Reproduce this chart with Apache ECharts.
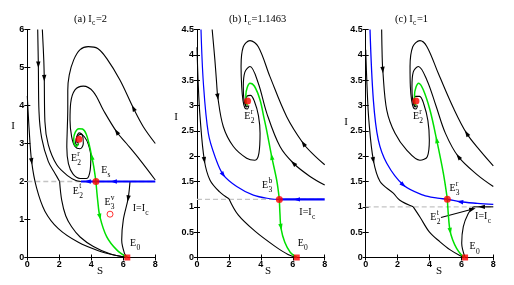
<!DOCTYPE html>
<html><head><meta charset="utf-8">
<script src="https://cdn.jsdelivr.net/npm/echarts@6/dist/echarts.min.js"></script>
<style>html,body{margin:0;padding:0;background:#fff}#c{width:514px;height:285px}</style>
</head><body><div id="c"></div>
<script>
// ---------------- Panel (a) Ic = 2 ----------------
const a_Ic = 2;
const a_leftCurve = [[0.0,4.25],[0.11,3.41],[0.27,2.53],[0.58,1.83],[1.1,1.22],[1.94,0.76],[3.19,0.4],[4.44,0.18],[5.5,0.06],[6.25,0]];
const a_topCurve1Upper = [[0.65,6],[0.69,5.07],[0.73,3.85],[0.9,3.14],[1.31,2.53],[1.75,2.2],[2.02,2.0]];
const a_topCurve1Lower = [[2.02,2.0],[2.15,1.51],[2.4,1.1],[2.77,0.81],[3.3,0.54],[4.13,0.29],[5.2,0.09],[6.25,0]];
const a_topCurve2 = [[0.94,6],[1.03,5.2],[1.06,4.72],[1.1,3.58],[1.31,2.97],[1.84,2.44],[2.56,2.14],[3.0,2.03],[3.35,2.0]];
const a_loopOuter = [[8,3.0],[7.25,3.44],[6.63,3.93],[5.79,4.67],[4.96,5.24],[4.4,5.5],[3.81,5.55],[3.3,5.47],[2.9,5.2],[2.62,4.8],[2.53,4.4],[2.53,3.9],[2.5,3.4],[2.47,2.9],[2.57,2.47],[2.85,2.2],[3.3,2.08],[3.7,2.08],[3.93,2.3],[3.97,2.65],[3.82,2.97],[3.58,3.17],[3.33,3.24],[3.1,3.17],[3.02,3.02],[3.12,2.95],[3.22,3.0]];
const a_loopInner = [[8,2.04],[7.04,2.57],[6.2,3.0],[5.58,3.31],[4.75,3.88],[4.13,4.36],[3.5,4.51],[2.98,4.41],[2.71,4.06],[2.67,3.62],[2.77,3.18],[2.98,2.92],[3.29,2.86],[3.5,3.0],[3.45,3.22],[3.25,3.28],[3.08,3.15],[3.12,3.02],[3.2,3.03]];
const a_rightCurve = [[6.42,2.0],[6.3,1.55],[6.0,0.99],[5.9,0.46],[6.08,0.1],[6.25,0]];
const a_greenUp = [[4.29,2.0],[4.15,2.4],[4.03,2.65],[3.88,2.95],[3.68,3.25],[3.45,3.38],[3.22,3.39],[3.0,3.3],[2.9,3.12],[2.95,2.97],[3.1,2.93],[3.18,3.0]];
const a_greenDown = [[4.29,2.0],[4.4,1.5],[4.54,1.07],[4.96,0.55],[5.59,0.2],[6.25,0]];
const a_blueLine = [[3.35,2.0],[8,2.0]];
const a_redDots = [[3.23,3.11],[4.29,2.0]];
const a_redSquare = [[6.25,0]];
const a_redHollow = [[5.17,1.14]];
// arrows: x, y, dx, dy, colour (0 black, 1 blue, 2 green)
const a_arrows = [[0.69,5.07,0.08,-2.15,0],[1.06,4.72,0.07,-1.6,0],[0.27,2.53,0.47,-1.58,0],[6.63,3.93,-1.46,1.23,0],[5.58,3.31,-1.45,0.88,0],[6.3,1.55,-0.42,-1.0,0],[5.4,2.0,-1,0,1],[3.77,2.0,-1,0,1],[4.03,2.65,-0.27,0.55,2],[4.54,1.07,0.56,-0.95,2]];
const a_labels = [[2.92,2.61,'E','r','2'],[4.81,2.3,'E','','s'],[3.03,1.75,'E','t','2'],[5.01,1.45,'E','v','3'],[6.59,1.29,'I=I','','c',1],[6.61,0.36,'E','','0']];

// ---------------- Panel (b) Ic = 1.1463 ----------------
const b_Ic = 1.1463;
const b_topLeft = [[0.95,4.5],[1.12,3.9],[1.23,3.44],[1.3,3.17],[1.65,2.58],[2.28,2.19],[3.11,1.96],[3.63,1.92],[3.88,2.06],[3.95,2.45],[3.85,2.8],[3.6,3.08],[3.35,3.2],[3.12,3.18],[3.02,3.06],[3.1,2.97],[3.2,3.0]];
const b_loopOuter = [[8.0,1.83],[7.3,2.03],[6.66,2.25],[5.62,2.78],[4.57,3.57],[3.84,4.16],[3.32,4.28],[2.9,4.16],[2.76,3.77],[2.8,3.37],[2.88,3.1],[3.0,2.95],[3.15,2.93],[3.25,3.0]];
const b_loopInner = [[8.0,1.43],[7.08,1.6],[6.04,1.86],[5.2,2.19],[4.37,2.85],[3.84,3.44],[3.32,3.77],[3.0,3.66],[2.9,3.37],[2.94,3.12],[3.05,3.0],[3.16,2.98]];
const b_leftUpper = [[0.0,4.15],[0.08,3.4],[0.19,2.78],[0.46,1.92],[0.81,1.53],[1.4,1.3],[2.0,1.16]];
const b_leftLower = [[2.0,1.16],[2.58,0.84],[3.63,0.52],[4.89,0.22],[5.7,0.06],[6.25,0]];
const b_greenUp = [[5.16,1.1463],[4.99,1.53],[4.68,1.99],[4.37,2.5],[4.2,2.75],[3.95,3.11],[3.6,3.38],[3.32,3.44],[3.15,3.36],[3.06,3.2],[3.08,3.05],[3.17,3.0]];
const b_greenDown = [[5.16,1.1463],[5.2,0.85],[5.26,0.58],[5.5,0.3],[5.85,0.1],[6.25,0]];
const b_blueCurve = [[0.25,4.5],[0.4,3.44],[0.71,2.45],[1.13,1.99],[1.65,1.63],[2.49,1.4],[3.53,1.23],[4.57,1.16],[5.16,1.1463]];
const b_blueLine = [[5.16,1.1463],[8,1.1463]];
const b_redDots = [[3.17,3.09],[5.16,1.1463]];
const b_redSquare = [[6.25,0]];
const b_arrows = [[1.3,3.17,0.42,-0.86,0],[0.46,1.92,0.62,-1.25,0],[6.66,2.25,-1.68,0.75,0],[6.04,1.86,-1.88,0.59,0],[1.65,1.63,1.36,-0.59,1],[6.25,1.1463,-1,0,1],[4.68,1.99,-0.62,0.97,2],[5.26,0.6,0.3,-0.55,2]];
const b_labels = [[3.15,2.78,'E','r','2'],[4.27,1.43,'E','b','3'],[6.41,0.9,'I=I','','c',1],[6.5,0.27,'E','','0']];

// ---------------- Panel (c) Ic = 1 ----------------
const c_Ic = 1;
const c_topLeft = [[1.0,4.5],[1.03,4.0],[1.07,3.7],[1.32,2.91],[1.84,2.45],[2.57,2.12],[3.4,1.92],[3.86,1.99],[3.99,2.32],[3.9,2.7],[3.65,3.02],[3.38,3.18],[3.12,3.18],[3.02,3.06],[3.1,2.97],[3.2,3.0]];
const c_loopOuter = [[8.0,1.81],[7.2,2.1],[6.33,2.45],[5.5,2.95],[4.57,3.62],[3.84,4.16],[3.4,4.28],[2.95,4.16],[2.78,3.77],[2.8,3.37],[2.88,3.1],[3.0,2.95],[3.15,2.93],[3.25,3.0]];
const c_loopInner = [[8.0,1.4],[7.0,1.63],[5.81,1.99],[5.0,2.45],[4.4,3.0],[3.84,3.5],[3.3,3.77],[2.98,3.66],[2.9,3.37],[2.94,3.12],[3.05,3.0],[3.16,2.98]];
const c_leftUpper = [[0.0,4.1],[0.08,3.4],[0.2,2.7],[0.48,1.92],[0.9,1.5],[1.73,1.27],[2.14,1.13],[2.98,1.0]];
const c_leftLower = [[2.98,1.0],[3.4,0.8],[4.0,0.5],[4.66,0.31],[5.3,0.15],[5.9,0.04],[6.23,0]];
const c_rightRise = [[6.23,0],[6.02,0.28],[6.12,0.61],[6.43,0.87],[6.75,1.0]];
const c_sliding = [[6.75,1.0],[8.0,1.0]];
const c_greenUp = [[5.12,1.15],[4.87,1.66],[4.45,2.32],[4.03,2.91],[3.61,3.31],[3.32,3.44],[3.15,3.36],[3.06,3.2],[3.08,3.05],[3.17,3.0]];
const c_greenDown = [[5.12,1.15],[5.18,0.85],[5.28,0.54],[5.45,0.35],[5.7,0.18],[6.0,0.05],[6.23,0]];
const c_blueCurve = [[0.27,4.5],[0.48,3.11],[0.79,2.32],[1.32,1.86],[2.36,1.43],[3.61,1.23],[4.5,1.17],[5.12,1.15],[5.91,1.1],[7.0,1.07],[8.0,1.05]];
const c_pointer = [[4.72,0.79],[6.72,0.957]];
const c_redDots = [[3.15,3.09],[5.12,1.15]];
const c_redSquare = [[6.23,0]];
const c_arrows = [[1.07,3.7,0.29,-1.09,0],[0.48,1.92,0.7,-1.2,0],[6.33,2.45,-1.7,0.85,0],[5.81,1.99,-2.0,0.82,0],[7.27,1.0,-1,0,0],[6.7,0.955,1,0.085,0],[2.36,1.43,2.29,-0.63,1],[5.91,1.1,-1.88,0.08,1],[4.45,2.32,-0.84,1.25,2],[5.3,0.52,0.27,-0.5,2]];
const c_labels = [[3.15,2.78,'E','r','2'],[5.44,1.37,'E','r','3'],[4.24,0.79,'E','t','2'],[6.86,0.82,'I=I','','c',1],[6.7,0.21,'E','','0']];

// tick/axis settings
const xTicks = {min:0, max:8, interval:2};
const a_yTicks = {min:0, max:6, interval:1};
const bc_yTicks = {min:0, max:4.5, interval:0.5};
const titles = [['(a) I','c','=2'],['(b) I','c','=1.1463'],['(c) I','c','=1']];

// ---------------- build ----------------
const SERIF = '"Liberation Serif","Times New Roman",serif';
const mctx = document.createElement('canvas').getContext('2d');
function tw(t, s){ mctx.font = s+'px '+SERIF; return mctx.measureText(t).width; }
const COLORS = ['#000000','#0000ff','#00e000'];

function arrowItem(params, api){
  const x=api.value(0), y=api.value(1), dx=api.value(2), dy=api.value(3), ci=api.value(4);
  const p=api.coord([x,y]); const q=api.coord([x+dx*0.05, y+dy*0.05]);
  const a=Math.atan2(q[1]-p[1], q[0]-p[0]);
  const c=Math.cos(a), s=Math.sin(a); const L=6.5, W=2.2;
  const tip=[p[0]+c*L/2, p[1]+s*L/2]; const bx=p[0]-c*L/2, by=p[1]-s*L/2;
  return {type:'polygon', shape:{points:[tip,[bx-s*W, by+c*W],[bx+s*W, by-c*W]]}, style:{fill:COLORS[ci]}};
}
function labelRenderer(list){
  return function(params, api){
    const L=list[params.dataIndex];
    const p=api.coord([L[0],L[1]]);
    const fs=10, ss=7.5;
    const w=tw(L[2],fs);
    const x0 = L[5]===1 ? p[0] : p[0]-w/2;
    const kids=[{type:'text', x:x0, y:p[1], style:{text:L[2], font:fs+'px '+SERIF, fill:'#000', align:'left', verticalAlign:'middle'}}];
    const xr=x0+w+0.3;
    if(L[3]) kids.push({type:'text', x:xr, y:p[1]-4.5, style:{text:L[3], font:ss+'px '+SERIF, fill:'#000', align:'left', verticalAlign:'middle'}});
    if(L[4]) kids.push({type:'text', x:xr, y:p[1]+4.7, style:{text:L[4], font:ss+'px '+SERIF, fill:'#000', align:'left', verticalAlign:'middle'}});
    return {type:'group', children:kids};
  };
}

const panels = [
  {left:27.3, width:128, y:a_yTicks, Ic:a_Ic,
   black:[a_leftCurve,a_topCurve1Upper,a_topCurve1Lower,a_topCurve2,a_loopOuter,a_loopInner,a_rightCurve],
   blue:[[a_blueLine,2.2]], green:[a_greenUp,a_greenDown], straight:[],
   dots:a_redDots, square:a_redSquare, hollow:a_redHollow, arrows:a_arrows, labels:a_labels},
  {left:197, width:127.7, y:bc_yTicks, Ic:b_Ic,
   black:[b_topLeft,b_loopOuter,b_loopInner,b_leftUpper,b_leftLower],
   blue:[[b_blueCurve,1.2],[b_blueLine,2.2]], green:[b_greenUp,b_greenDown], straight:[],
   dots:b_redDots, square:b_redSquare, hollow:[], arrows:b_arrows, labels:b_labels},
  {left:365.7, width:127.6, y:bc_yTicks, Ic:c_Ic,
   black:[c_topLeft,c_loopOuter,c_loopInner,c_leftUpper,c_leftLower,c_rightRise],
   blue:[[c_blueCurve,1.3]], green:[c_greenUp,c_greenDown], straight:[c_sliding,c_pointer],
   dots:c_redDots, square:c_redSquare, hollow:[], arrows:c_arrows, labels:c_labels}
];

const grid=[], xAxis=[], yAxis=[], series=[];
const lbl = {fontSize:9, fontWeight:'bold', color:'#000', fontFamily:'"Liberation Sans",Arial,sans-serif'};
const axLine = {show:true, lineStyle:{color:'#000', width:1}};
const tick = {show:true, inside:true, length:3, lineStyle:{color:'#000'}};
panels.forEach((P,i)=>{
  grid.push({left:P.left, top:29.5, width:P.width, height:228});
  xAxis.push({type:'value', gridIndex:i, ...xTicks, position:'bottom', axisLine:axLine, axisTick:tick, splitLine:{show:false}, axisLabel:{...lbl, margin:3}});
  xAxis.push({type:'value', gridIndex:i, ...xTicks, position:'top', axisLine:axLine, axisTick:tick, splitLine:{show:false}, axisLabel:{show:false}});
  yAxis.push({type:'value', gridIndex:i, ...P.y, position:'left', axisLine:axLine, axisTick:tick, splitLine:{show:false}, axisLabel:{...lbl, margin:3}});
  yAxis.push({type:'value', gridIndex:i, ...P.y, position:'right', axisLine:axLine, axisTick:tick, splitLine:{show:false}, axisLabel:{show:false}});
  const xi=2*i, yi=2*i;
  const line=(data,color,width,smooth,z,type)=>series.push({type:'line', xAxisIndex:xi, yAxisIndex:yi, data, showSymbol:false, smooth:smooth, silent:true, z:z, clip:true, lineStyle:{color, width, type:type||'solid'}});
  line([[0,P.Ic],[8,P.Ic]], '#c4c4c4', 1.3, false, 1, [5,3]);
  P.black.forEach(d=>line(d,'#000',1.1,0.35,2));
  P.straight.forEach(d=>line(d,'#000',1.1,false,2));
  P.blue.forEach(d=>line(d[0],'#0000ff',d[1],0.35,3));
  P.green.forEach(d=>line(d,'#00e000',1.5,0.35,3));
  series.push({type:'custom', xAxisIndex:xi, yAxisIndex:yi, data:P.arrows, renderItem:arrowItem, silent:true, z:4, clip:false});
  series.push({type:'scatter', xAxisIndex:xi, yAxisIndex:yi, data:P.dots, symbol:'circle', symbolSize:7, itemStyle:{color:'#ff0000'}, silent:true, z:6, clip:false});
  series.push({type:'scatter', xAxisIndex:xi, yAxisIndex:yi, data:P.square, symbol:'rect', symbolSize:6, itemStyle:{color:'#ff0000'}, silent:true, z:6, clip:false});
  if(P.hollow.length) series.push({type:'scatter', xAxisIndex:xi, yAxisIndex:yi, data:P.hollow, symbol:'circle', symbolSize:6, itemStyle:{color:'#fff', borderColor:'#ff0000', borderWidth:1}, silent:true, z:6, clip:false});
  series.push({type:'custom', xAxisIndex:xi, yAxisIndex:yi, data:P.labels.map(l=>[l[0],l[1]]), renderItem:labelRenderer(P.labels), silent:true, z:7, clip:false});
});

// titles and axis names (layout text)
const graphic=[];
const titleLeft=[74,229,395];
titles.forEach((t,i)=>{
  const fs=10.5, ss=7.5; let x=titleLeft[i]; const y=19;
  graphic.push({type:'text', x, y, style:{text:t[0], font:fs+'px '+SERIF, fill:'#000', align:'left', verticalAlign:'middle'}});
  x+=tw(t[0],fs)+0.3;
  graphic.push({type:'text', x, y:y+4.5, style:{text:t[1], font:ss+'px '+SERIF, fill:'#000', align:'left', verticalAlign:'middle'}});
  x+=tw(t[1],ss)+0.5;
  graphic.push({type:'text', x, y, style:{text:t[2], font:fs+'px '+SERIF, fill:'#000', align:'left', verticalAlign:'middle'}});
});
[[100,271],[268,271],[439,271]].forEach(p=>graphic.push({type:'text', x:p[0], y:p[1], style:{text:'S', font:'11px '+SERIF, fill:'#000', align:'center', verticalAlign:'middle'}}));
[[13,126],[176,117],[346,122]].forEach(p=>graphic.push({type:'text', x:p[0], y:p[1], style:{text:'I', font:'11px '+SERIF, fill:'#000', align:'center', verticalAlign:'middle'}}));

const chart = echarts.init(document.getElementById('c'));
chart.setOption({animation:false, backgroundColor:'#fff', grid, xAxis, yAxis, series, graphic});
</script></body></html>
